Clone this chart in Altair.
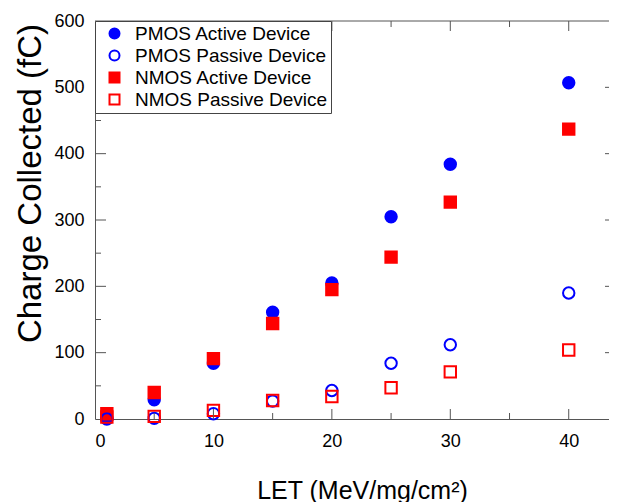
import altair as alt
import pandas as pd

# ---- data ----
let_vals = [1, 5, 10, 15, 20, 25, 30, 40]
pmos_active = [1, 29, 84, 161, 205, 305, 384, 507]
pmos_passive = [0, 1, 8, 27, 43, 84, 112, 190]
nmos_active = [8, 40, 91, 144, 195, 244, 327, 437]
nmos_passive = [3, 4, 13, 28, 34, 47, 71, 104]

series_names = ["PMOS Active Device", "PMOS Passive Device",
                "NMOS Active Device", "NMOS Passive Device"]
x_labels = [0, 10, 20, 30, 40]
x_major = [10, 20, 30, 40]
x_minor = [5, 15, 25, 35]
y_labels = [0, 100, 200, 300, 400, 500, 600]
y_major = [100, 200, 300, 400, 500]
y_minor = [50, 150, 250, 350, 450, 550]

# draw order: active first, passive on top; red over blue
draw_order = [("PMOS Active Device", pmos_active), ("NMOS Active Device", nmos_active),
              ("PMOS Passive Device", pmos_passive), ("NMOS Passive Device", nmos_passive)]
rows = []
for name, vals in draw_order:
    for x, v in zip(let_vals, vals):
        rows.append({"let": x, "q": v, "series": name})
df = pd.DataFrame(rows)

W, H = 514, 398
FONT = "Liberation Sans"
AX = "#555555"

xscale = alt.Scale(domain=[0, 43.4], nice=False, zero=False)
yscale = alt.Scale(domain=[0, 600], nice=False, zero=False)

x_axis = alt.Axis(
    values=x_labels, ticks=False, grid=False, title="LET (MeV/mg/cm²)",
    labelFont=FONT, labelFontSize=18, labelColor="black", labelPadding=13,
    titleFont=FONT, titleFontSize=25, titleFontWeight="normal", titleColor="black",
    titleX=267, titleY=79, titleBaseline="alphabetic", titleAlign="center",
    domainColor=AX, domainWidth=1)
y_axis = alt.Axis(
    values=y_labels, ticks=False, grid=False, title="Charge Collected (fC)",
    labelFont=FONT, labelFontSize=18, labelColor="black", labelPadding=11,
    titleFont=FONT, titleFontSize=33, titleFontWeight="normal", titleColor="black",
    titleX=-55, titleY=162, titleBaseline="alphabetic", titleAlign="center", titleAngle=270,
    domainColor=AX, domainWidth=1)

leg = alt.Legend(
    title=None, orient="none", legendX=0, legendY=0,
    strokeColor="#444444", fillColor="white", padding=3,
    labelFont=FONT, labelFontSize=19, labelColor="black", labelLimit=400,
    symbolSize=100, symbolStrokeWidth=2, rowPadding=2,
    labelOffset=11, symbolOffset=7,
)

shape_scale = alt.Scale(domain=series_names, range=["circle", "circle", "square", "square"])
stroke_scale = alt.Scale(domain=series_names, range=["#0000ff", "#0000ff", "#ff0000", "#ff0000"])
fill_scale = alt.Scale(domain=series_names, range=["#0000ff", "transparent", "#ff0000", "transparent"])

points = alt.Chart(df).mark_point(filled=False, strokeWidth=2, opacity=1, size=130).encode(
    x=alt.X("let:Q", scale=xscale, axis=x_axis),
    y=alt.Y("q:Q", scale=yscale, axis=y_axis),
    shape=alt.Shape("series:N", scale=shape_scale, legend=leg),
    stroke=alt.Stroke("series:N", scale=stroke_scale, legend=leg),
    fill=alt.Fill("series:N", scale=fill_scale, legend=leg),
)


def xticks(vals, y0, y1):
    return alt.Chart(pd.DataFrame({"v": vals})).mark_rule(color=AX, strokeWidth=1).encode(
        x=alt.X("v:Q", scale=xscale, axis=x_axis), y=alt.value(y0), y2=alt.value(y1))


def yticks(vals, x0, x1):
    return alt.Chart(pd.DataFrame({"v": vals})).mark_rule(color=AX, strokeWidth=1).encode(
        y=alt.Y("v:Q", scale=yscale, axis=y_axis), x=alt.value(x0), x2=alt.value(x1))


top_line = alt.Chart(pd.DataFrame({"a": [0]})).mark_rule(color=AX, strokeWidth=1).encode(
    x=alt.value(0), x2=alt.value(W), y=alt.value(0))

chart = alt.layer(
    points,
    xticks(x_major, H, H - 10), xticks(x_minor, H, H - 6),
    xticks(x_major, 0, 10), xticks(x_minor, 0, 6),
    yticks(y_major, 0, 11), yticks(y_minor, 0, 6),
    yticks(y_major, W - 4, W),
    top_line,
).properties(
    width=W, height=H,
    autosize=alt.AutoSizeParams(type="none"),
    padding={"left": 87, "top": 13, "right": 0, "bottom": 83},
    background="white",
).configure_view(stroke=None)

chart.save("out.html", embed_options={"renderer": "svg", "actions": False})
